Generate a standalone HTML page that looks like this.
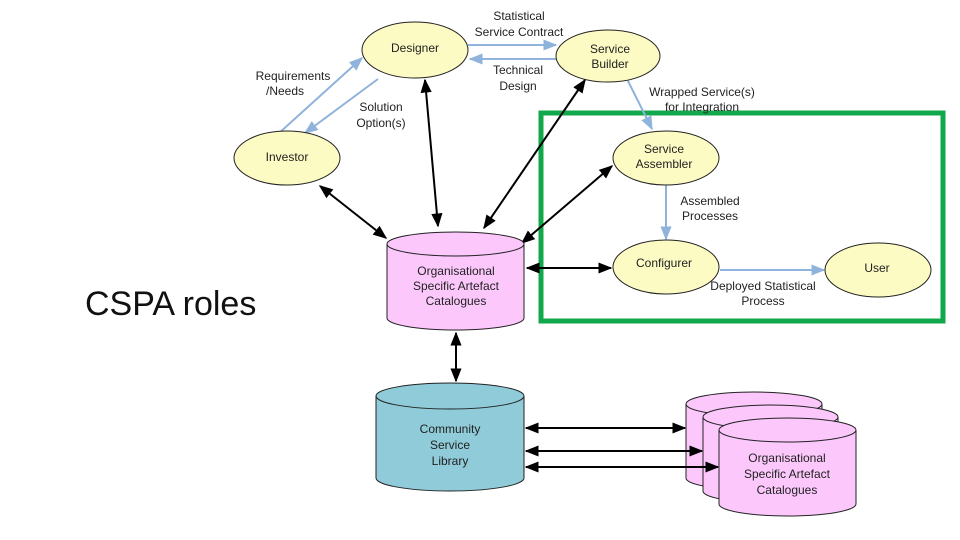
<!DOCTYPE html>
<html><head><meta charset="utf-8"><style>
html,body{margin:0;padding:0;background:#fff;}
svg{display:block;font-family:"Liberation Sans","DejaVu Sans",sans-serif;}
</style></head><body>
<svg width="960" height="540" viewBox="0 0 960 540" xmlns="http://www.w3.org/2000/svg">
<defs>
<marker id="b" viewBox="0 0 10 10" refX="9" refY="5" markerWidth="7" markerHeight="7" orient="auto-start-reverse"><path d="M0,1 L10,5 L0,9 z" fill="#000"/></marker>
<marker id="l" viewBox="0 0 10 10" refX="9" refY="5" markerWidth="7" markerHeight="7" orient="auto-start-reverse"><path d="M0,1 L10,5 L0,9 z" fill="#8fb3da"/></marker>
</defs>
<rect width="960" height="540" fill="#fff"/>
<text x="85" y="315" font-size="34" fill="#111">CSPA roles</text>

<rect x="541" y="113" width="402" height="208" fill="none" stroke="#10a84a" stroke-width="5"/>

<g stroke="#8fb3da" stroke-width="2" fill="none" marker-end="url(#l)">
<line x1="468" y1="45" x2="556" y2="45"/>
<line x1="557" y1="59" x2="470" y2="59"/>
<line x1="278" y1="134" x2="362" y2="58"/>
<line x1="378" y1="79" x2="305" y2="133"/>
<line x1="628" y1="81" x2="652" y2="129"/>
<line x1="666" y1="185" x2="666" y2="239"/>
<line x1="720" y1="270" x2="824" y2="270"/>
</g>

<g stroke="#000" stroke-width="2" fill="none" marker-start="url(#b)" marker-end="url(#b)">
<line x1="320" y1="186" x2="386" y2="238"/>
<line x1="425" y1="80" x2="438" y2="226"/>
<line x1="585" y1="80" x2="484" y2="228"/>
<line x1="612" y1="166" x2="522" y2="243"/>
<line x1="527" y1="268" x2="611" y2="268"/>
<line x1="456" y1="333" x2="456" y2="381"/>
</g>

<g fill="#fdfbc4" stroke="#222" stroke-width="1">
<ellipse cx="415" cy="50" rx="53" ry="28"/>
<ellipse cx="608" cy="56" rx="52" ry="26"/>
<ellipse cx="287" cy="158" rx="53" ry="27"/>
<ellipse cx="666" cy="158" rx="53" ry="27"/>
<ellipse cx="666" cy="267" rx="53" ry="27"/>
<ellipse cx="878" cy="270" rx="53" ry="27"/>
</g>

<g stroke="#222" stroke-width="1">
<path d="M387,244 L387,318 A68.5,12 0 0 0 524,318 L524,244" fill="#fcc8fc"/>
<ellipse cx="455.5" cy="244" rx="68.5" ry="12" fill="#fcc8fc"/>
<path d="M376,396 L376,478 A74,13 0 0 0 524,478 L524,396" fill="#8fcbd8"/>
<ellipse cx="450" cy="396" rx="74" ry="13" fill="#8fcbd8"/>
<path d="M686,404 L686,478 A68,12 0 0 0 822,478 L822,404" fill="#fcc8fc"/>
<ellipse cx="754" cy="404" rx="68" ry="12" fill="#fcc8fc"/>
<path d="M703,417 L703,491 A67.5,12 0 0 0 838,491 L838,417" fill="#fcc8fc"/>
<ellipse cx="770.5" cy="417" rx="67.5" ry="12" fill="#fcc8fc"/>
<path d="M719,430 L719,504 A68.5,12 0 0 0 856,504 L856,430" fill="#fcc8fc"/>
<ellipse cx="787.5" cy="430" rx="68.5" ry="12" fill="#fcc8fc"/>
</g>

<g stroke="#000" stroke-width="2" fill="none" marker-start="url(#b)" marker-end="url(#b)">
<line x1="526" y1="428" x2="685" y2="428"/>
<line x1="526" y1="451" x2="702" y2="451"/>
<line x1="526" y1="467" x2="718" y2="467"/>
</g>

<g font-size="12" fill="#222" text-anchor="middle">
<text x="415" y="52">Designer</text>
<text x="610" y="53">Service</text><text x="610" y="68">Builder</text>
<text x="287" y="161">Investor</text>
<text x="664" y="153">Service</text><text x="664" y="168">Assembler</text>
<text x="664" y="267">Configurer</text>
<text x="877" y="272">User</text>
<text x="519" y="20">Statistical</text><text x="519" y="36">Service Contract</text>
<text x="518" y="74">Technical</text><text x="518" y="90">Design</text>
<text x="293" y="80">Requirements</text><text x="285" y="95">/Needs</text>
<text x="381" y="111">Solution</text><text x="381" y="127">Option(s)</text>
<text x="702" y="96">Wrapped Service(s)</text><text x="702" y="111">for Integration</text>
<text x="710" y="205">Assembled</text><text x="710" y="220">Processes</text>
<text x="763" y="290">Deployed Statistical</text><text x="763" y="305">Process</text>
<text x="456" y="275">Organisational</text><text x="456" y="290">Specific Artefact</text><text x="456" y="305">Catalogues</text>
<text x="450" y="433">Community</text><text x="450" y="449">Service</text><text x="450" y="465">Library</text>
<text x="787" y="462">Organisational</text><text x="787" y="478">Specific Artefact</text><text x="787" y="494">Catalogues</text>
</g>
</svg>
</body></html>
